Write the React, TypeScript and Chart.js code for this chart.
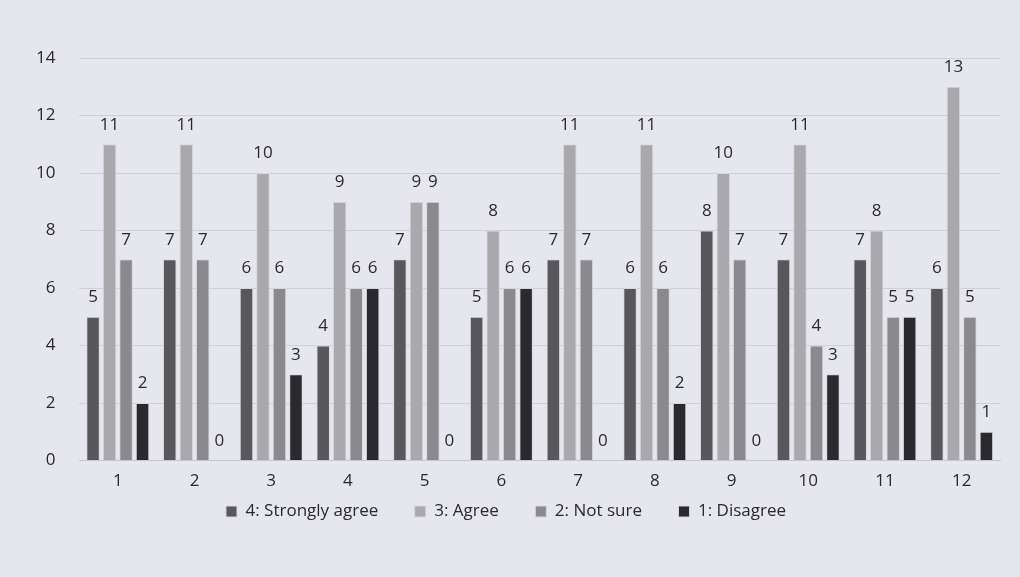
import React, { useEffect, useRef } from "react";
import { Chart, registerables } from "chart.js";

Chart.register(...registerables);

const categories = ["1", "2", "3", "4", "5", "6", "7", "8", "9", "10", "11", "12"];
const strongAgree = [5, 7, 6, 4, 7, 5, 7, 6, 8, 7, 7, 6];
const agree = [11, 11, 10, 9, 9, 8, 11, 11, 10, 11, 8, 13];
const notSure = [7, 7, 6, 6, 9, 6, 7, 6, 7, 4, 5, 5];
const disagree = [2, 0, 3, 6, 0, 6, 0, 2, 0, 3, 5, 1];
const seriesNames = ["4: Strongly agree", "3: Agree", "2: Not sure", "1: Disagree"];
const seriesColors = ["#58585c", "#a9a9ad", "#8a8a8e", "#2a2a2e"];

const FONT = "'Open Sans', 'Liberation Sans', sans-serif";

const labelPlugin = {
  id: "valueLabels",
  afterDatasetsDraw(chart: any) {
    const ctx = chart.ctx;
    ctx.save();
    ctx.fillStyle = "#2a2a2a";
    ctx.font = `17px ${FONT}`;
    ctx.textAlign = "center";
    ctx.textBaseline = "bottom";
    chart.data.datasets.forEach((ds: any, i: number) => {
      const meta = chart.getDatasetMeta(i);
      meta.data.forEach((bar: any, j: number) => {
        const v = ds.data[j];
        ctx.fillText(String(v), bar.x, bar.y - 11);
      });
    });
    ctx.restore();
  },
};

const bgPlugin = {
  id: "bg",
  beforeDraw(chart: any) {
    const ctx = chart.ctx;
    ctx.save();
    ctx.fillStyle = "#e6e6ee";
    ctx.fillRect(0, 0, chart.width, chart.height);
    ctx.restore();
  },
};

export default function App() {
  const ref = useRef<HTMLCanvasElement>(null);
  useEffect(() => {
    if (!ref.current) return;
    const allSeries = [strongAgree, agree, notSure, disagree];
    const chart = new Chart(ref.current, {
      type: "bar",
      data: {
        labels: categories,
        datasets: allSeries.map((d, i) => ({
          label: seriesNames[i],
          data: d,
          backgroundColor: seriesColors[i],
          borderColor: "#d6d6da",
          borderWidth: 1,
          barPercentage: 0.82,
          categoryPercentage: 0.86,
        })),
      },
      options: {
        responsive: false,
        animation: false,
        devicePixelRatio: 1,
        layout: { padding: { top: 58, left: 12, right: 20, bottom: 47 } },
        plugins: {
          legend: {
            position: "bottom",
            labels: {
              font: { family: FONT, size: 17 },
              color: "#2a2a2a",
              boxWidth: 11,
              boxHeight: 11,
              padding: 10,
              generateLabels: (ch: any) => {
                const base = Chart.defaults.plugins.legend.labels.generateLabels(ch);
                return base.map((l: any, i: number) => ({
                  ...l,
                  text: i < base.length - 1 ? l.text + "      " : l.text,
                  strokeStyle: "#d6d6da",
                }));
              },
            },
          },
          tooltip: { enabled: false },
        },
        scales: {
          x: {
            grid: { display: false },
            border: { display: true, color: "#c8c8d0" },
            ticks: { font: { family: FONT, size: 17 }, color: "#2a2a2a", padding: 2 },
          },
          y: {
            min: 0,
            max: 14,
            ticks: { stepSize: 2, font: { family: FONT, size: 17 }, color: "#2a2a2a", padding: 24 },
            grid: { color: "#cfcfd8", drawTicks: false },
            border: { display: false },
          },
        },
      },
      plugins: [bgPlugin, labelPlugin],
    });
    return () => chart.destroy();
  }, []);
  return (
    <div style={{ position: "fixed", left: 0, top: 0, width: 1020, height: 577, background: "#e6e6ee" }}>
      <canvas ref={ref} width={1020} height={577} style={{ width: 1020, height: 577 }} />
    </div>
  );
}
